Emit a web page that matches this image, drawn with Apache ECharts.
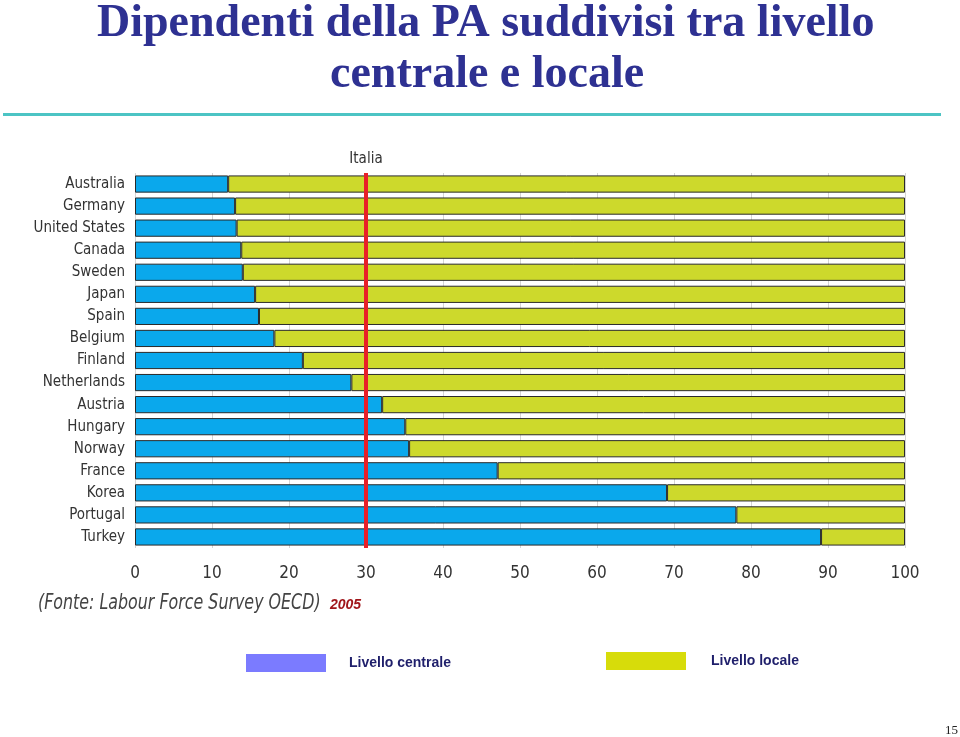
<!DOCTYPE html>
<html><head><meta charset="utf-8">
<script src="https://cdn.jsdelivr.net/npm/echarts@6/dist/echarts.min.js"></script>
<style>html,body{margin:0;padding:0;background:#fff}#c{width:960px;height:737px}</style>
</head><body><div id="c"></div>
<script>
var countries = ['Australia','Germany','United States','Canada','Sweden','Japan','Spain','Belgium','Finland','Netherlands','Austria','Hungary','Norway','France','Korea','Portugal','Turkey'];
var centrale = [12.1, 13.0, 13.2, 13.8, 14.0, 15.6, 16.1, 18.1, 21.8, 28.1, 32.1, 35.1, 35.6, 47.1, 69.1, 78.1, 89.1];
var locale = [87.9, 87.0, 86.8, 86.2, 86.0, 84.4, 83.9, 81.9, 78.2, 71.9, 67.9, 64.9, 64.4, 52.9, 30.9, 21.9, 10.9];
var italia = 30;
var xTicks = [0, 100, 10];

var cond = "'DejaVu Sans Condensed','Liberation Sans Narrow',sans-serif";
var titleStyle = {fontFamily: "'Liberation Serif',serif", fontSize: 46, fontWeight: 'bold', color: '#2E3192'};
var chart = echarts.init(document.getElementById('c'));
chart.setOption({
  animation: false,
  title: [
    {text: 'Dipendenti della PA suddivisi tra livello', left: 92, top: -4, textStyle: titleStyle},
    {text: 'centrale e locale', left: 325, top: 47, textStyle: titleStyle}
  ],
  legend: [{
    data: [{name: 'Livello centrale', itemStyle: {color: '#7B7BFF', borderWidth: 0}}],
    left: 241, top: 649, itemWidth: 80, itemHeight: 18, icon: 'rect',
    textStyle: {fontFamily: 'Liberation Sans, Arial, sans-serif', fontSize: 14, fontWeight: 'bold', color: '#1F1F6B', padding: [3, 0, 0, 18]}
  }, {
    data: [{name: 'Livello locale', itemStyle: {color: '#D7DC0A', borderWidth: 0}}],
    left: 601, top: 647, itemWidth: 80, itemHeight: 18, icon: 'rect',
    textStyle: {fontFamily: 'Liberation Sans, Arial, sans-serif', fontSize: 14, fontWeight: 'bold', color: '#1F1F6B', padding: [0, 0, 2, 20]}
  }],
  grid: {left: 135, right: 55, top: 173, bottom: 189},
  xAxis: {
    type: 'value', min: xTicks[0], max: xTicks[1], interval: xTicks[2],
    axisLine: {show: false}, axisTick: {show: false},
    splitLine: {lineStyle: {color: '#d4d4d4', width: 1}},
    axisLabel: {fontFamily: cond, fontSize: 17, color: '#333', margin: 17}
  },
  yAxis: {
    type: 'category', data: countries, inverse: true,
    axisLine: {show: false}, axisTick: {show: false},
    axisLabel: {fontFamily: cond, fontSize: 15, color: '#333', margin: 10}
  },
  series: [{
    name: 'Livello centrale', type: 'bar', stack: 's', data: centrale, barCategoryGap: '22%',
    itemStyle: {color: '#0AA8EC', borderColor: '#2a2a2a', borderWidth: 1},
    markLine: {
      symbol: 'none', silent: true,
      lineStyle: {color: '#E82028', width: 4, type: 'solid'},
      label: {show: true, position: 'start', formatter: 'Italia', fontFamily: cond, fontSize: 15, color: '#333', distance: 6},
      data: [{xAxis: italia}]
    }
  }, {
    name: 'Livello locale', type: 'bar', stack: 's', data: locale,
    itemStyle: {color: '#CDD92C', borderColor: '#2a2a2a', borderWidth: 1}
  }],
  graphic: [
    {type: 'rect', shape: {x: 3, y: 113, width: 938, height: 3}, style: {fill: '#4CC4C4'}},
    {type: 'text', x: 38, y: 593, scaleX: 0.84, style: {text: '(Fonte: Labour Force Survey OECD)', fontFamily: cond, fontSize: 21, fontStyle: 'italic', fill: '#444'}},
    {type: 'text', left: 330, top: 598, style: {text: '2005', fontFamily: 'Liberation Sans, Arial, sans-serif', fontSize: 14, fontStyle: 'italic', fontWeight: 'bold', fill: '#A0151A'}},
    {type: 'text', left: 945, top: 724, style: {text: '15', fontFamily: "'Liberation Serif',serif", fontSize: 13, fill: '#222'}}
  ]
});
</script></body></html>
